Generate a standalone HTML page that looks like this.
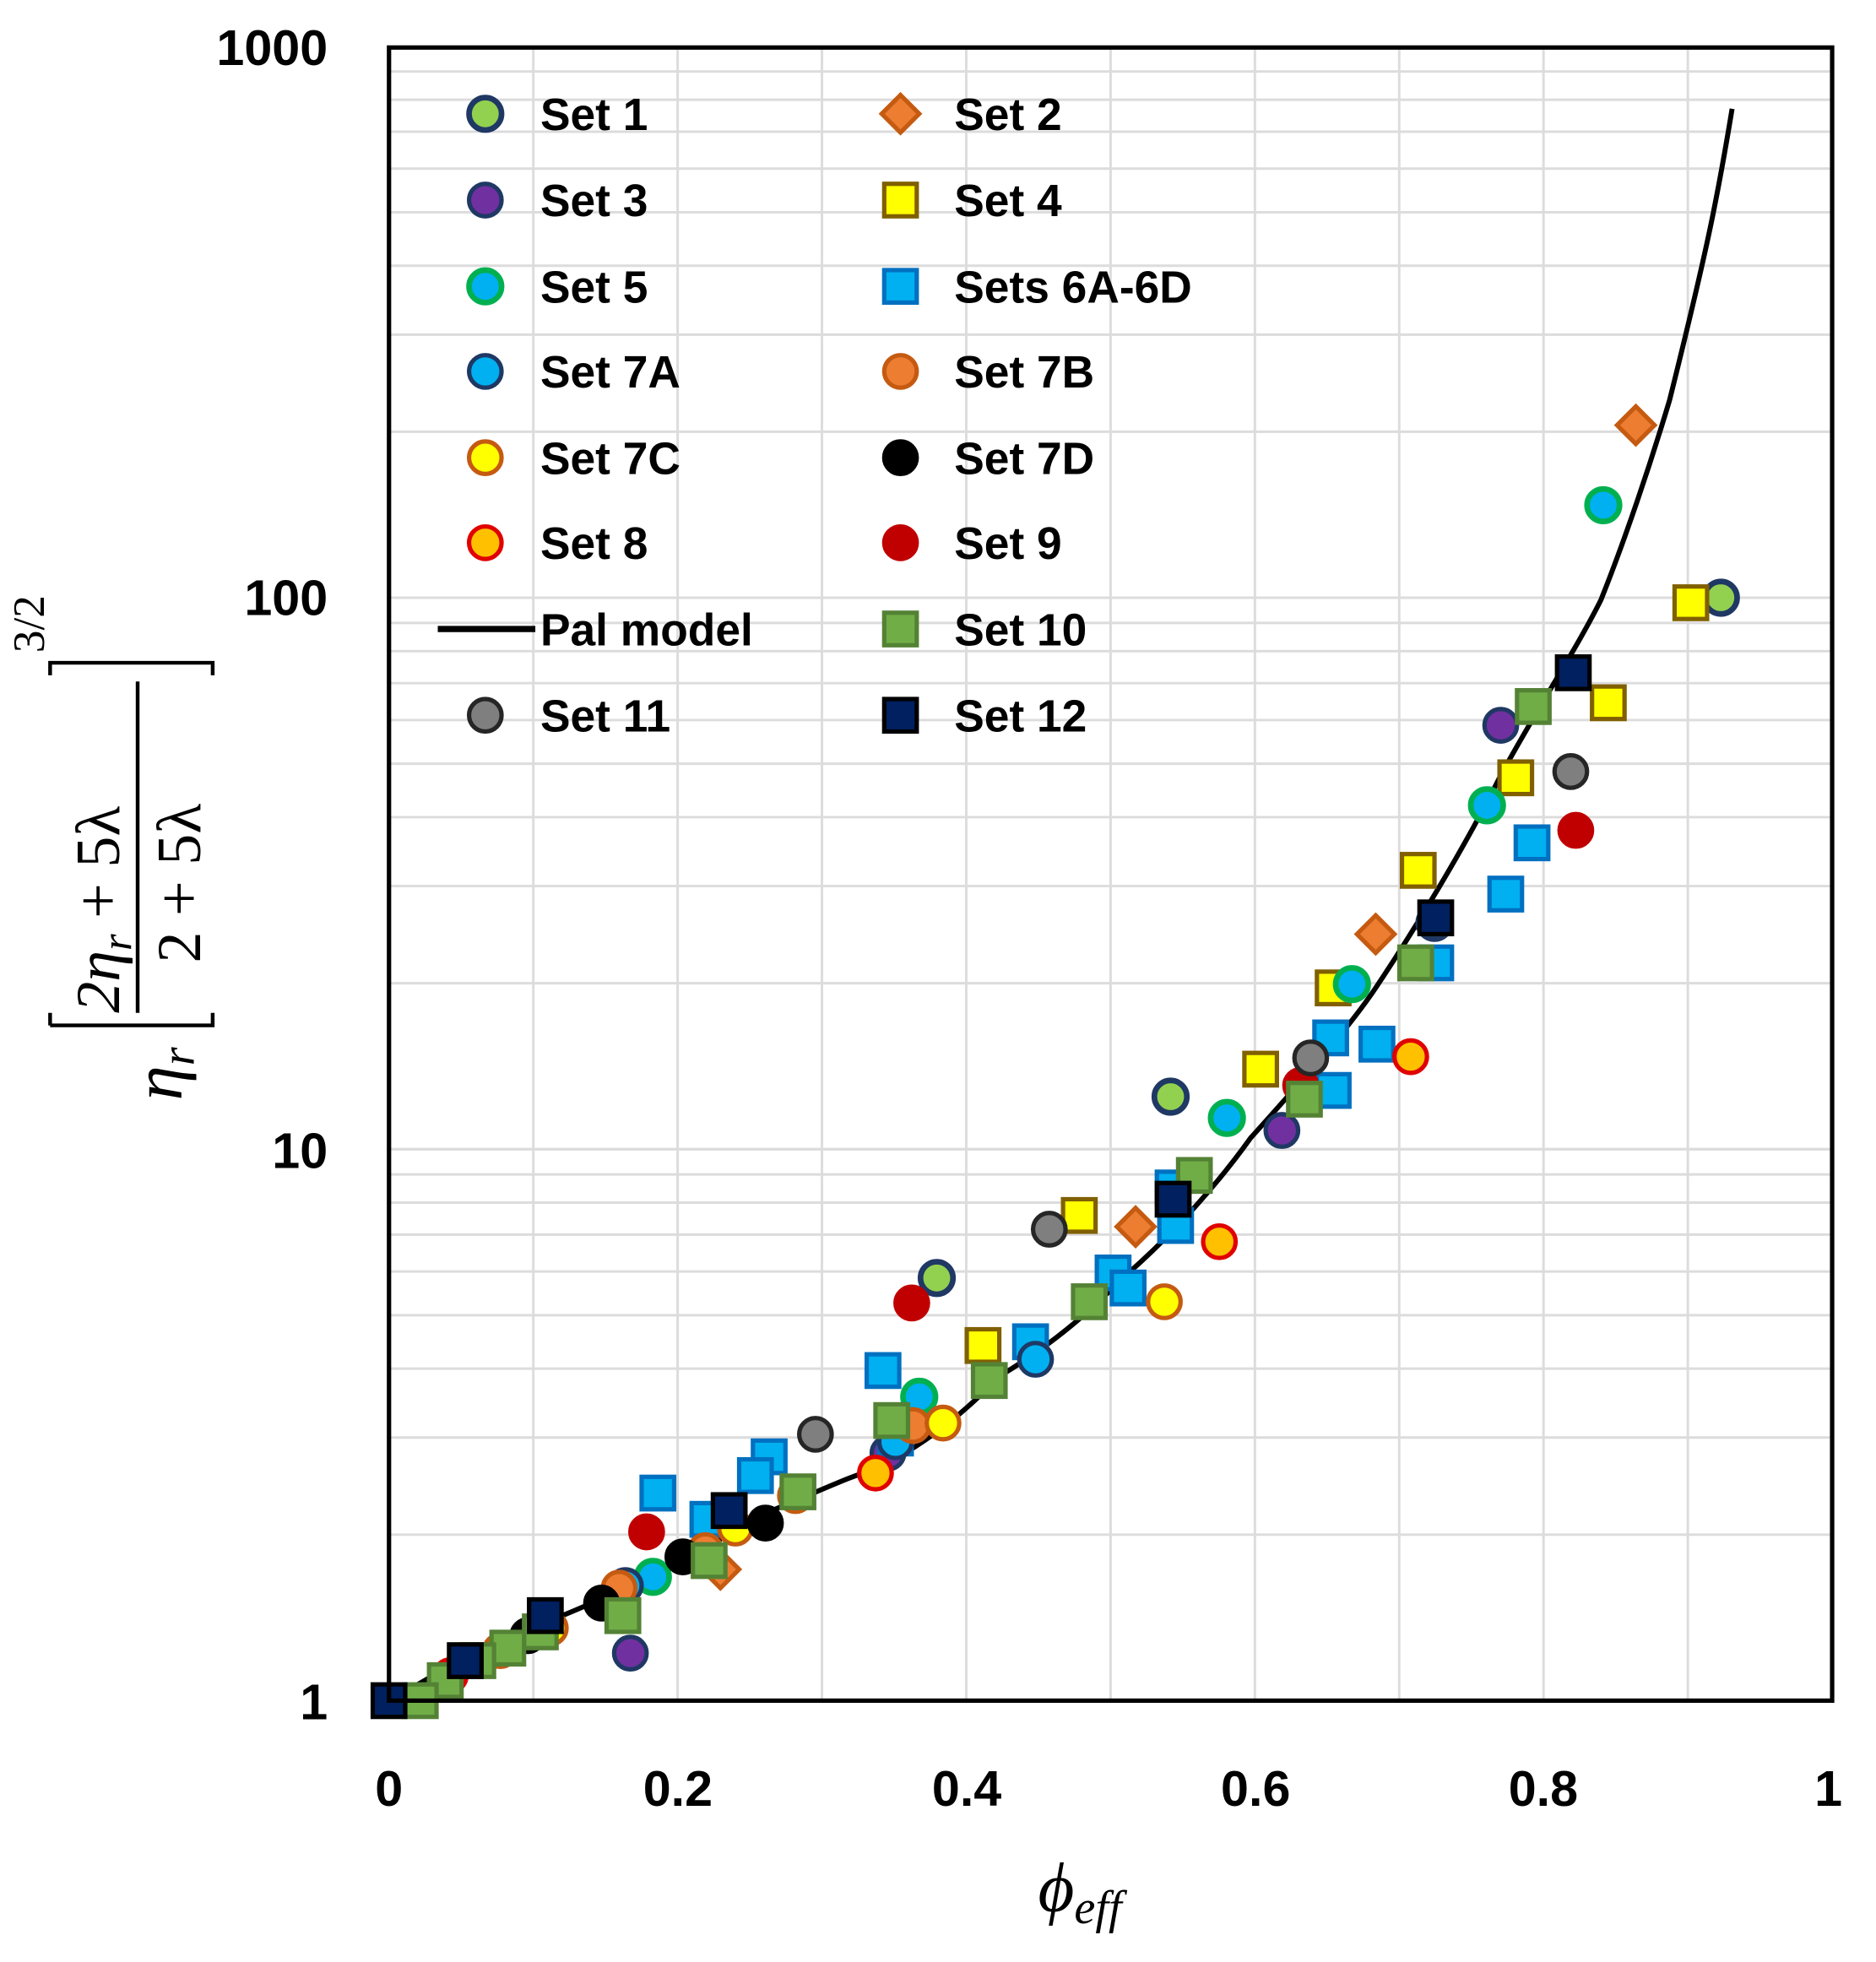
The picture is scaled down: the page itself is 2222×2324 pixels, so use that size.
<!DOCTYPE html>
<html><head><meta charset="utf-8"><style>html,body{margin:0;padding:0;background:#fff}svg{display:block}</style></head>
<body>
<svg width="2222" height="2324" viewBox="0 0 1500 1569" xmlns="http://www.w3.org/2000/svg" font-family="Liberation Sans, sans-serif">
<rect width="1500" height="1569" fill="#fff"/>
<g id="grid" stroke="#dcdcdc" stroke-width="2"></g>
<path id="curve" fill="none" stroke="#000" stroke-width="4" d="M311,1361 C360,1330 400,1312 430,1300 C480,1280 560,1245 600,1215 C650,1195 680,1180 700,1175 C750,1150 780,1120 800,1100 C850,1070 880,1040 900,1020 C940,985 975,945 1000,910 C1045,860 1080,820 1100,790 C1130,745 1170,680 1200,620 C1230,565 1260,520 1280,480 C1300,430 1320,370 1335,320 C1350,260 1362,210 1370,170 C1378,130 1382,105 1385,87"/>
<g id="pts"></g>
<rect x="311" y="38" width="1154" height="1322" fill="none" stroke="#000" stroke-width="3.5"/>
<g font-weight="bold" font-size="40" fill="#000" text-anchor="end">
<text x="262" y="52">1000</text><text x="262" y="492">100</text><text x="262" y="934">10</text><text x="262" y="1375">1</text>
</g>
<g font-weight="bold" font-size="40" fill="#000" text-anchor="middle">
<text x="311" y="1444">0</text><text x="542" y="1444">0.2</text><text x="773" y="1444">0.4</text><text x="1004" y="1444">0.6</text><text x="1234" y="1444">0.8</text><text x="1462" y="1444">1</text>
</g>
<text x="830" y="1528" font-family="Liberation Serif, serif" font-style="italic" font-size="56">ϕ<tspan font-size="38" dy="10">eff</tspan></text>
<g transform="translate(145,700) rotate(-90)" font-family="Liberation Serif, serif" font-style="italic" fill="#000">
<text x="-180" y="0" font-size="56">η<tspan font-size="38" dy="10">r</tspan></text>
<path d="M-120,-105 L-120,25 L-110,25 M-120,-105 L-110,-105" stroke="#000" stroke-width="3" fill="none"/>
<text x="-110" y="-50" font-size="50">2η<tspan font-size="34" dy="10">r</tspan><tspan dy="-10" font-style="normal"> + 5λ</tspan></text>
<line x1="-110" y1="-35" x2="155" y2="-35" stroke="#000" stroke-width="3"/>
<text x="-70" y="15" font-size="50" font-style="normal">2 + 5λ</text>
<path d="M160,-105 L170,-105 L170,25 L160,25" stroke="#000" stroke-width="3" fill="none"/>
<text x="178" y="-110" font-size="36" font-style="normal">3/2</text>
</g>
<g id="leg" font-weight="bold" font-size="36" fill="#000"></g>
<script>
const NS="http://www.w3.org/2000/svg";
const g=document.getElementById('grid');
function ln(x1,y1,x2,y2){const l=document.createElementNS(NS,'line');l.setAttribute('x1',x1);l.setAttribute('y1',y1);l.setAttribute('x2',x2);l.setAttribute('y2',y2);g.appendChild(l);}
for(let k=1;k<10;k++){const x=311+115.4*k;ln(x,38,x,1360);}
for(let d=0;d<3;d++)for(let m=1;m<=10;m++){const y=1360-441*(d+Math.log10(m));if(y>39&&y<1359)ln(311,y,1465,y);}
const S={
c1:['circle','#92d050','#1f3864'],d2:['diamond','#ed7d31','#c55a11'],c3:['circle','#7030a0','#1f3864'],s4:['square','#ffff00','#806000'],
c5:['circle','#00b0f0','#00b050'],s6:['square','#00b0f0','#0070c0'],c7a:['circle','#00b0f0','#1f3864'],c7b:['circle','#ed7d31','#c55a11'],
c7c:['circle','#ffff00','#c55a11'],c7d:['circle','#000','#000'],c8:['circle','#ffc000','#e00000'],c9:['circle','#c00000','#c00000'],
s10:['square','#70ad47','#548235'],c11:['circle','#7f7f7f','#262626'],s12:['square','#002060','#000']};
function mk(par,t,x,y,big){const [sh,f,s]=S[t];let e;const r=big?13:13;
 if(sh=='circle'){e=document.createElementNS(NS,'circle');e.setAttribute('cx',x);e.setAttribute('cy',y);e.setAttribute('r',r);}
 else if(sh=='square'){e=document.createElementNS(NS,'rect');e.setAttribute('x',x-r);e.setAttribute('y',y-r);e.setAttribute('width',2*r);e.setAttribute('height',2*r);}
 else{e=document.createElementNS(NS,'polygon');e.setAttribute('points',`${x},${y-r-2} ${x+r+2},${y} ${x},${y+r+2} ${x-r-2},${y}`);}
 e.setAttribute('fill',f);e.setAttribute('stroke',s);e.setAttribute('stroke-width',(t=='c5'||t=='c1')?4.5:3.5);par.appendChild(e);}
const D={
c1:[[936,877],[749,1022],[1376,478],[1147,738]],
d2:[[1308,340],[1100,747],[908,981],[576,1255]],
c3:[[1200,580],[1025,904],[504,1322],[710,1162]],
s4:[[1352,482],[1286,562],[1212,622],[1134,696],[1066,790],[1008,855],[863,972],[786,1076]],
c5:[[1282,404],[1189,644],[1081,787],[981,894],[735,1117],[522,1261]],
s6:[[1225,674],[1204,715],[1148,770],[1101,835],[1064,830],[1066,872],[938,950],[940,980],[890,1018],[902,1030],[824,1073],[706,1096],[615,1165],[604,1180],[566,1215],[526,1194],[716,1150]],
c7a:[[828,1087],[716,1153],[500,1268],[436,1302]],
c7b:[[636,1196],[564,1240],[495,1270],[730,1140]],
c7c:[[931,1041],[754,1138],[588,1222],[440,1302],[400,1320]],
c7d:[[612,1218],[546,1245],[481,1282],[422,1308]],
c8:[[1128,845],[975,993],[700,1178],[360,1340]],
c9:[[1260,664],[1040,868],[729,1042],[517,1225]],
s10:[[1226,565],[1132,770],[1043,879],[955,940],[871,1041],[791,1104],[713,1136],[638,1193],[567,1248],[498,1292],[432,1305],[406,1318],[382,1328],[356,1344],[336,1360]],
c11:[[1256,617],[1048,846],[839,983],[652,1147]],
s12:[[1258,538],[1148,734],[938,959],[583,1208],[436,1292],[372,1328],[311,1360]]};
const P=document.getElementById('pts');
for(const k in D)for(const [x,y] of D[k])mk(P,k,x,y,true);
const L=document.getElementById('leg');
const rows=[['c1','Set 1','d2','Set 2'],['c3','Set 3','s4','Set 4'],['c5','Set 5','s6','Sets 6A-6D'],['c7a','Set 7A','c7b','Set 7B'],['c7c','Set 7C','c7d','Set 7D'],['c8','Set 8','c9','Set 9'],[null,'Pal model','s10','Set 10'],['c11','Set 11','s12','Set 12']];
const ys=[91,160,229,297,366,434,503,572];
rows.forEach((r,i)=>{const y=ys[i];
 if(r[0])mk(L,r[0],388,y,false);else{const l=document.createElementNS(NS,'line');l.setAttribute('x1',350);l.setAttribute('x2',428);l.setAttribute('y1',y);l.setAttribute('y2',y);l.setAttribute('stroke','#000');l.setAttribute('stroke-width',5);L.appendChild(l);}
 mk(L,r[2],720,y,false);
 [[432,r[1]],[763,r[3]]].forEach(([x,s])=>{const t=document.createElementNS(NS,'text');t.setAttribute('x',x);t.setAttribute('y',y+13);t.textContent=s;L.appendChild(t);});});
</script>
</svg>
</body></html>
